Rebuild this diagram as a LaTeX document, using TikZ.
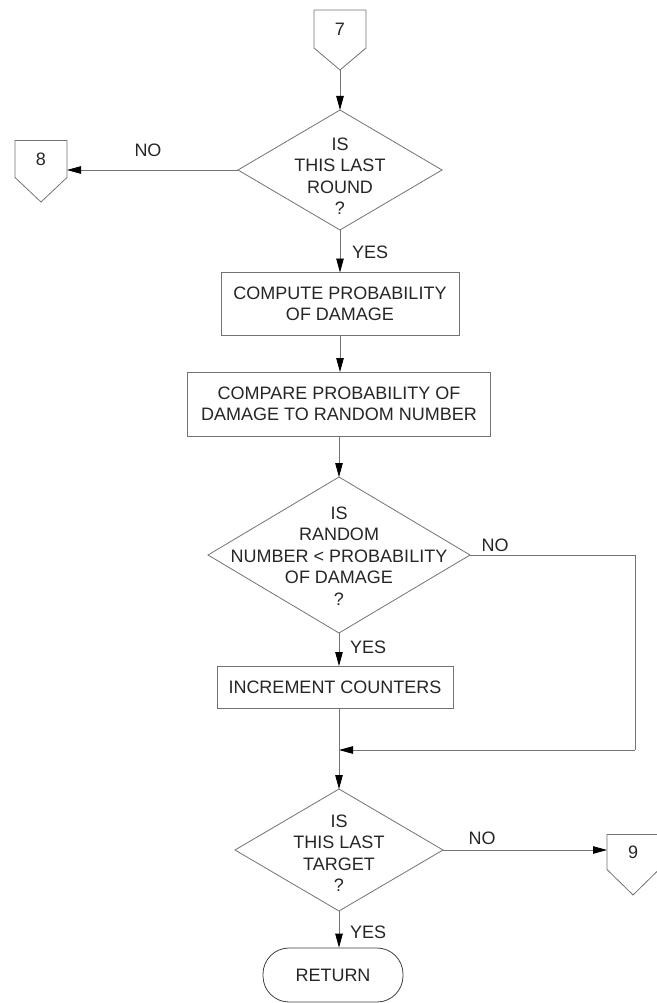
\documentclass[tikz,border=0pt]{standalone}
\usepackage{fontspec}
\setmainfont{Liberation Sans}
\usetikzlibrary{shapes.geometric,arrows.meta}

\tikzset{
  txt/.style={text=black!85, font=\fontsize{18}{21.5}\selectfont, align=center},
  line/.style={draw=black!55, line width=0.8pt},
  flow/.style={line, -{Triangle[length=14pt,width=7.5pt,fill=black,color=black]}},
  procbox/.style={line, rectangle, inner sep=0pt, outer sep=0pt},
  decision/.style={line, diamond, inner sep=0pt, outer sep=0pt},
  pagebox/.style={rectangle, inner sep=0pt, outer sep=0pt, minimum width=52pt},
  terminal/.style={draw=black!75, line width=0.8pt, rectangle, rounded corners=26pt,
    inner sep=0pt, minimum width=140pt, minimum height=54pt},
  lab/.style={txt, inner sep=0pt}
}

% off-page connector: box with a pointed bottom
\newcommand{\pentagon}[2]{%
  \draw[line] (#1.south west) -- (#1.north west) -- (#1.north east)
    -- (#1.south east) -- (#2) -- cycle;}

\begin{document}
\begin{tikzpicture}[x=1pt,y=-1pt]
\useasboundingbox[fill=white] (0,0) rectangle (656,1003);

% entry connector 7
\node[pagebox, minimum height=38pt, txt] (c7) at (340,29) {7};
\coordinate (c7tip) at (340,70);
\pentagon{c7}{c7tip}

% first decision
\node[decision, minimum width=204pt, minimum height=120pt] (d1) at (340,170) {};
\node[txt] (d1t) at (340,176) {IS\\THIS LAST\\ROUND\\?};

% exit connector 8
\node[pagebox, minimum height=37pt, txt] (c8) at (41,159) {8};
\coordinate (c8tip) at (41,202);
\pentagon{c8}{c8tip}

% processing boxes
\node[procbox, minimum width=238pt, minimum height=63pt] (b1) at (340,304) {};
\node[txt] (b1t) at (b1) {COMPUTE PROBABILITY\\OF DAMAGE};

\node[procbox, minimum width=303pt, minimum height=64pt] (b2) at (339,404) {};
\node[txt] (b2t) at (b2) {COMPARE PROBABILITY OF\\DAMAGE TO RANDOM NUMBER};

% second decision
\node[decision, minimum width=262pt, minimum height=156pt] (d2) at (339,555) {};
\node[txt] (d2t) at (339,556) {IS\\RANDOM\\NUMBER < PROBABILITY\\OF DAMAGE\\?};

\node[procbox, minimum width=236pt, minimum height=42pt] (b3) at (335,687) {};
\node[txt] (b3t) at (b3) {INCREMENT COUNTERS};

\coordinate (join) at (339,750);
\coordinate (loopr) at (635,750);

% third decision
\node[decision, minimum width=208pt, minimum height=122pt] (d3) at (339,850) {};
\node[txt] (d3t) at (339,853) {IS\\THIS LAST\\TARGET\\?};

% exit connector 9
\node[pagebox, minimum height=35pt, txt] (c9) at (633,852) {9};
\coordinate (c9tip) at (633,895);
\pentagon{c9}{c9tip}

% end
\node[terminal, txt] (ret) at (333,975) {RETURN};

% connectors
\draw[flow] (c7tip) -- (d1.north);
\draw[flow] (d1.west) -- (d1.west -| c8.east);
\node[lab] (n1) at (148,150) {NO};
\draw[flow] (d1.south) -- (b1.north);
\node[lab, anchor=west] (y1) at (352,252) {YES};
\draw[flow] (b1.south) -- (b1.south |- b2.north);
\draw[flow] (b2.south) -- (d2.north);
\draw[flow] (d2.south) -- (d2.south |- b3.north);
\node[lab, anchor=west] (y2) at (350,647) {YES};
\draw[line] (d2.east) -| (loopr);
\draw[flow] (loopr) -- (join);
\node[lab] (n2) at (495,545) {NO};
\draw[line] (d2.south |- b3.south) -- (join);
\draw[flow] (join) -- (d3.north);
\draw[flow] (d3.east) -- (d3.east -| c9.west);
\node[lab] (n3) at (482,838) {NO};
\draw[flow] (d3.south) -- (d3.south |- ret.north);
\node[lab, anchor=west] (y3) at (350,932) {YES};
\end{tikzpicture}
\end{document}
